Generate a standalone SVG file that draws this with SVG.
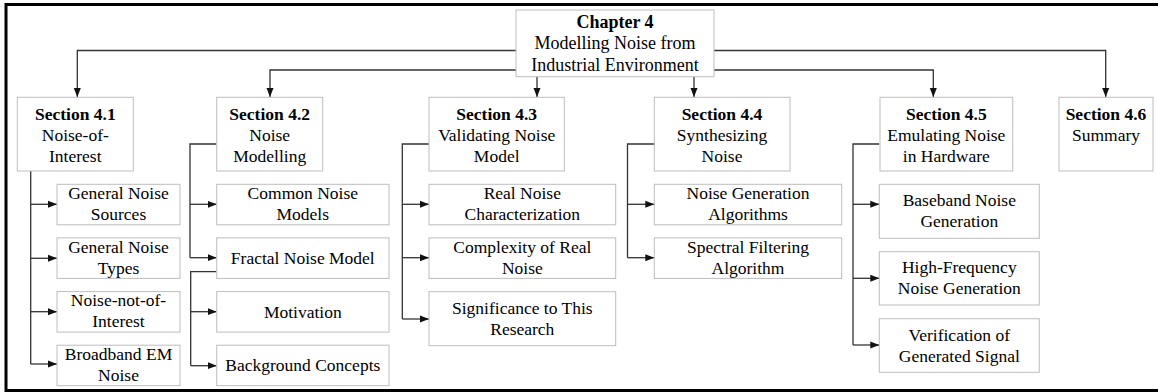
<svg xmlns="http://www.w3.org/2000/svg" width="1158" height="392" viewBox="0 0 1158 392">
<defs>
<style>
.frame{fill:#fff;stroke:#000;stroke-width:3}
.box{fill:#fff;stroke:#bdbdbd;stroke-width:1}
.t{font-family:"Liberation Serif","Times New Roman",serif;font-size:17.5px;fill:#000;text-anchor:middle}
.ch{font-size:18px}
.b{font-weight:bold}
.c{fill:none;stroke:#333;stroke-width:1.3}
.a{fill:none;stroke:#333;stroke-width:1.3;marker-end:url(#arr)}
</style>
<marker id="arr" markerUnits="userSpaceOnUse" markerWidth="10" markerHeight="8" refX="9" refY="4" orient="auto">
<path d="M0,0.5 L9,4 L0,7.5 z" fill="#111"/>
</marker>
</defs>
<rect class="frame" x="6" y="4.5" width="1160" height="386"/>

<g id="connectors">
<path class="a" d="M516,50.5 H77.3 V97"/>
<path class="a" d="M516,70 H270 V97"/>
<path class="a" d="M537,76.7 V97"/>
<path class="a" d="M694,76.7 V97"/>
<path class="a" d="M714,70 H933.3 V97"/>
<path class="a" d="M714,50.5 H1105.7 V97"/>

<path class="c" d="M30.7,171 V364"/>
<path class="a" d="M30.7,204.3 H57"/>
<path class="a" d="M30.7,258.3 H57"/>
<path class="a" d="M30.7,311.7 H57"/>
<path class="a" d="M30.7,364 H57"/>

<path class="c" d="M216.7,144 H190 V257.7"/>
<path class="a" d="M190,204.3 H216.7"/>
<path class="a" d="M190,257.7 H216.7"/>
<path class="c" d="M216.7,271.7 H190.7 V365.7"/>
<path class="a" d="M190.7,311.7 H216.7"/>
<path class="a" d="M190.7,365.7 H216.7"/>

<path class="c" d="M429,144 H402.3 V319"/>
<path class="a" d="M402.3,204.3 H429"/>
<path class="a" d="M402.3,257.7 H429"/>
<path class="a" d="M402.3,319 H429"/>

<path class="c" d="M654.3,144 H627.5 V257.7"/>
<path class="a" d="M627.5,204.3 H654.3"/>
<path class="a" d="M627.5,257.7 H654.3"/>

<path class="c" d="M879.3,144 H853 V345"/>
<path class="a" d="M853,204.3 H879.3"/>
<path class="a" d="M853,278.3 H879.3"/>
<path class="a" d="M853,345 H879.3"/>
</g>

<g id="chapter4">
<rect class="box" x="516" y="10" width="198" height="66.7"/>
<text class="t ch b" x="615" y="28">Chapter 4</text>
<text class="t ch" x="615" y="49.3">Modelling Noise from</text>
<text class="t ch" x="615" y="70.6">Industrial Environment</text>
</g>

<g id="section41">
<rect class="box" x="17.3" y="97.3" width="116" height="73.7"/>
<text class="t b" x="75.3" y="119.5">Section 4.1</text>
<text class="t" x="75.3" y="140.5">Noise-of-</text>
<text class="t" x="75.3" y="161.5">Interest</text>
</g>
<g id="section42">
<rect class="box" x="216.7" y="97.3" width="106" height="73.7"/>
<text class="t b" x="269.7" y="119.5">Section 4.2</text>
<text class="t" x="269.7" y="140.5">Noise</text>
<text class="t" x="269.7" y="161.5">Modelling</text>
</g>
<g id="section43">
<rect class="box" x="429" y="97.3" width="135.3" height="73.7"/>
<text class="t b" x="496.7" y="119.5">Section 4.3</text>
<text class="t" x="496.7" y="140.5">Validating Noise</text>
<text class="t" x="496.7" y="161.5">Model</text>
</g>
<g id="section44">
<rect class="box" x="654.3" y="97.3" width="135.7" height="73.7"/>
<text class="t b" x="722" y="119.5">Section 4.4</text>
<text class="t" x="722" y="140.5">Synthesizing</text>
<text class="t" x="722" y="161.5">Noise</text>
</g>
<g id="section45">
<rect class="box" x="880" y="97.3" width="132.7" height="73.7"/>
<text class="t b" x="946.3" y="119.5">Section 4.5</text>
<text class="t" x="946.3" y="140.5">Emulating Noise</text>
<text class="t" x="946.3" y="161.5">in Hardware</text>
</g>
<g id="section46">
<rect class="box" x="1059" y="97.3" width="94" height="73.7"/>
<text class="t b" x="1106" y="119.5">Section 4.6</text>
<text class="t" x="1106" y="140.5">Summary</text>
</g>

<g id="general-noise-sources">
<rect class="box" x="57" y="184.3" width="123" height="40.5"/>
<text class="t" x="118.5" y="199">General Noise</text>
<text class="t" x="118.5" y="220">Sources</text>
</g>
<g id="general-noise-types">
<rect class="box" x="57" y="237.9" width="123" height="40.5"/>
<text class="t" x="118.5" y="252.6">General Noise</text>
<text class="t" x="118.5" y="273.6">Types</text>
</g>
<g id="noise-not-of-interest">
<rect class="box" x="57" y="291.6" width="123" height="40.5"/>
<text class="t" x="118.5" y="306.3">Noise-not-of-</text>
<text class="t" x="118.5" y="327.3">Interest</text>
</g>
<g id="broadband-em-noise">
<rect class="box" x="57" y="345.2" width="123" height="40.5"/>
<text class="t" x="118.5" y="359.9">Broadband EM</text>
<text class="t" x="118.5" y="380.9">Noise</text>
</g>

<g id="common-noise-models">
<rect class="box" x="216.7" y="184.3" width="172.3" height="40.5"/>
<text class="t" x="302.8" y="199">Common Noise</text>
<text class="t" x="302.8" y="220">Models</text>
</g>
<g id="fractal-noise-model">
<rect class="box" x="216.7" y="237.9" width="172.3" height="40.5"/>
<text class="t" x="302.8" y="263.8">Fractal Noise Model</text>
</g>
<g id="motivation">
<rect class="box" x="216.7" y="291.6" width="172.3" height="40.5"/>
<text class="t" x="302.8" y="317.5">Motivation</text>
</g>
<g id="background-concepts">
<rect class="box" x="216.7" y="345.2" width="172.3" height="40.5"/>
<text class="t" x="302.8" y="371.1">Background Concepts</text>
</g>

<g id="real-noise-characterization">
<rect class="box" x="429" y="184.3" width="186.7" height="40.5"/>
<text class="t" x="522.3" y="199">Real Noise</text>
<text class="t" x="522.3" y="220">Characterization</text>
</g>
<g id="complexity-of-real-noise">
<rect class="box" x="429" y="237.9" width="186.7" height="40.5"/>
<text class="t" x="522.3" y="252.6">Complexity of Real</text>
<text class="t" x="522.3" y="273.6">Noise</text>
</g>
<g id="significance">
<rect class="box" x="429" y="291.7" width="186.7" height="54"/>
<text class="t" x="522.3" y="313.5">Significance to This</text>
<text class="t" x="522.3" y="334.5">Research</text>
</g>

<g id="noise-generation-algorithms">
<rect class="box" x="654.3" y="184.3" width="187.4" height="40.5"/>
<text class="t" x="748" y="199">Noise Generation</text>
<text class="t" x="748" y="220">Algorithms</text>
</g>
<g id="spectral-filtering-algorithm">
<rect class="box" x="654.3" y="237.9" width="187.4" height="40.5"/>
<text class="t" x="748" y="252.6">Spectral Filtering</text>
<text class="t" x="748" y="273.6">Algorithm</text>
</g>

<g id="baseband-noise-generation">
<rect class="box" x="879.3" y="184.3" width="160" height="54"/>
<text class="t" x="959.3" y="206">Baseband Noise</text>
<text class="t" x="959.3" y="227">Generation</text>
</g>
<g id="high-frequency-noise-generation">
<rect class="box" x="879.3" y="251.7" width="160" height="53.3"/>
<text class="t" x="959.3" y="273.4">High-Frequency</text>
<text class="t" x="959.3" y="294.4">Noise Generation</text>
</g>
<g id="verification">
<rect class="box" x="879.3" y="318.7" width="160" height="53.6"/>
<text class="t" x="959.3" y="340.5">Verification of</text>
<text class="t" x="959.3" y="361.5">Generated Signal</text>
</g>
</svg>
